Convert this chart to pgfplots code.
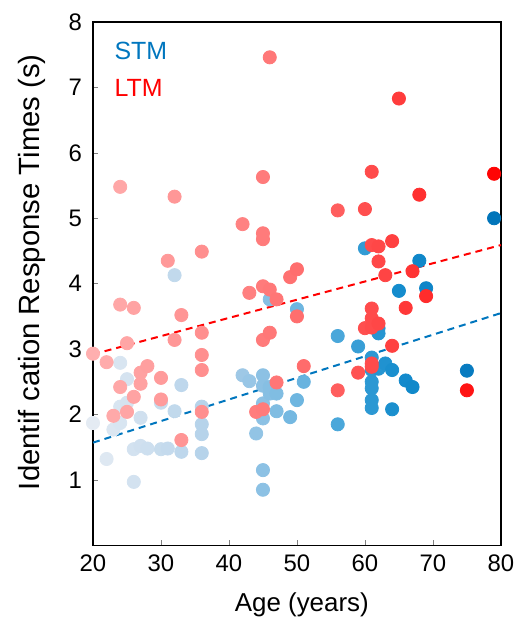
\documentclass[border=0pt]{standalone}
\usepackage{fontspec}
\setmainfont{Liberation Sans}
\usepackage{pgfplots}
\pgfplotsset{compat=1.18}
\definecolor{stmblue}{RGB}{0,118,190}
\definecolor{ltmred}{RGB}{255,0,0}
\pgfplotsset{
  colormap={stm}{rgb255(0cm)=(228,235,243) rgb255(4cm)=(170,205,232) rgb255(7cm)=(80,170,220) rgb255(9cm)=(20,140,205) rgb255(12cm)=(0,115,185)},
  colormap={ltm}{rgb255(0cm)=(255,175,175) rgb255(4cm)=(255,135,135) rgb255(7cm)=(255,98,98) rgb255(9cm)=(255,60,60) rgb255(12cm)=(255,0,0)},
}
\begin{document}
\begin{tikzpicture}
\begin{axis}[
    scale only axis, width=204bp, height=261.75bp,
    xmin=20, xmax=80, ymin=0, ymax=8,
    xtick={20,30,...,80}, ytick={1,2,...,8},
    tick align=inside, tick pos=left, major tick length=2.5bp,
    axis line style={line width=0.7pt},
    /pgf/number format/assume math mode=true,
    ticklabel style={font=\fontsize{12}{14}\selectfont},
    yticklabel style={xshift=-2bp},
    xticklabel style={yshift=-1bp},
    xlabel={Age (years)}, ylabel={Identif\hspace{0.3em}cation Response Times (s)},
    xlabel style={font=\fontsize{13}{15}\selectfont, at={(rel axis cs:0.512,-0.114)}, anchor=center},
    ylabel style={font=\fontsize{14.7}{17}\selectfont, at={(rel axis cs:-0.15,0.522)}, anchor=center},
    point meta min=20, point meta max=80,
    clip=false,
]
% STM
\addplot[scatter, only marks, mark=*, mark size=3.3bp, colormap name=stm, point meta=x,
  scatter/use mapped color={draw=mapped color, fill=mapped color}] coordinates {
(20,1.87)(22,1.32)(23,1.77)(24,2.79)(24,2.12)(24,1.87)(25,2.54)(25,2.18)
(26,1.47)(26,0.97)(27,1.95)(27,1.52)(28,1.48)(30,2.18)(30,1.47)(31,1.48)
(32,4.13)(32,2.05)(33,2.45)(33,1.43)(36,2.12)(36,1.85)(36,1.70)(36,1.41)
(42,2.60)(43,2.51)(44,1.71)(45,2.60)(45,2.44)(45,2.17)(45,1.94)(45,1.15)(45,0.85)
(46,3.76)(46,2.42)(46,2.32)(47,2.32)(47,2.05)(49,1.96)(50,3.61)(50,2.22)(51,2.50)
(56,3.20)(56,1.85)(59,3.04)(60,4.54)(61,2.87)(61,2.68)(61,2.50)(61,2.40)(61,2.22)(61,2.10)
(62,3.32)(62,3.24)(62,2.70)(63,2.78)(64,2.68)(64,2.08)(65,3.89)(66,2.52)(67,2.42)
(68,4.35)(69,3.93)(75,2.67)(79,5.00)
};
% LTM
\addplot[scatter, only marks, mark=*, mark size=3.3bp, colormap name=ltm, point meta=x,
  scatter/use mapped color={draw=mapped color, fill=mapped color}] coordinates {
(20,2.93)(22,2.80)(23,1.98)(24,5.48)(24,3.68)(24,2.42)(25,3.09)(25,2.04)
(26,3.63)(26,2.27)(27,2.64)(27,2.47)(28,2.74)(30,2.56)(30,2.23)(31,4.35)
(32,5.33)(32,3.14)(33,3.52)(33,1.61)(36,4.49)(36,3.25)(36,2.91)(36,2.68)(36,2.04)
(42,4.91)(43,3.86)(44,2.04)(45,5.63)(45,4.77)(45,4.68)(45,3.96)(45,3.14)(45,2.08)
(46,7.46)(46,3.91)(46,3.25)(47,3.76)(47,2.49)(49,4.10)(50,4.22)(50,3.50)(51,2.74)
(56,5.12)(56,2.37)(59,2.64)(60,5.14)(60,3.32)(61,5.71)(61,4.59)(61,3.62)(61,3.47)
(61,3.33)(61,2.78)(61,2.73)(62,4.57)(62,4.34)(62,3.39)(63,4.13)(64,4.65)(64,3.05)
(65,6.83)(66,3.63)(67,4.19)(68,5.36)(69,3.81)(75,2.37)(79,5.68)
};
% regression lines
\addplot[stmblue, line width=1bp, dash pattern=on 3.5bp off 2.5bp] coordinates {(20,1.57)(80,3.55)};
\addplot[ltmred, line width=1bp, dash pattern=on 3.5bp off 2.5bp] coordinates {(20,2.92)(80,4.59)};
\node[anchor=west, text=stmblue, font=\fontsize{12.5}{15}\selectfont, inner sep=0pt] at (rel axis cs:0.052,0.945) {STM};
\node[anchor=west, text=ltmred, font=\fontsize{12.5}{15}\selectfont, inner sep=0pt] at (rel axis cs:0.052,0.874) {LTM};
\path (rel axis cs:-0.228,-0.156) rectangle (rel axis cs:1.042,1.042);
\end{axis}
\end{tikzpicture}
\end{document}
